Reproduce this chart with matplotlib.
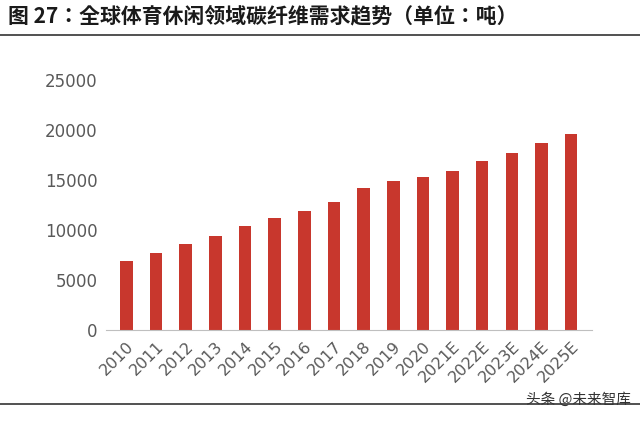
import matplotlib
matplotlib.use("Agg")
import matplotlib.pyplot as plt
from matplotlib.lines import Line2D
from matplotlib import font_manager as fm

files = [f for f in fm.findSystemFonts() if "CJK" in f and "Sans" in f]
bold = [f for f in files if "Bold" in f]
reg = [f for f in files if "Regular" in f]
cjk_b = bold[0] if bold else (files[0] if files else None)
cjk_r = reg[0] if reg else (files[0] if files else None)

years = ["2010","2011","2012","2013","2014","2015","2016","2017","2018","2019","2020",
         "2021E","2022E","2023E","2024E","2025E"]
demand = [6900,7700,8600,9400,10400,11200,11900,12800,14200,14900,15300,15900,16900,17700,18700,19600]
yticks = [0,5000,10000,15000,20000,25000]

fig = plt.figure(figsize=(6.4,4.21), dpi=100)
ax = fig.add_axes([0.165, 0.216, 0.76, 0.594])
ax.bar(range(len(years)), demand, width=0.42, color="#C8372D")
ax.set_ylim(0, 25000)
ax.set_xlim(-0.7, len(years)-0.3)
ax.set_yticks(yticks)
ax.set_yticklabels([str(t) for t in yticks], fontsize=12, color="#595959", family="DejaVu Sans")
ax.set_xticks(range(len(years)))
ax.set_xticklabels(years, rotation=45, ha="right", rotation_mode="anchor", fontsize=11.5, color="#595959", family="DejaVu Sans")
for s in ["top","right","left"]:
    ax.spines[s].set_visible(False)
ax.spines["bottom"].set_color("#BFBFBF")
ax.tick_params(length=0, pad=6)

tp = fm.FontProperties(fname=cjk_b, size=15) if cjk_b else fm.FontProperties(size=15, weight="bold")
wp = fm.FontProperties(fname=cjk_r, size=10.5) if cjk_r else fm.FontProperties(size=10.5)
fig.text(0.012, 0.962, "图 27：全球体育休闲领域碳纤维需求趋势（单位：吨）", fontproperties=tp,
         color="#1a1a1a", va="center")
fig.add_artist(Line2D([0.0, 1.0], [0.917, 0.917], color="#333333", lw=1.2))
fig.add_artist(Line2D([0.0, 1.0], [0.04, 0.04], color="#333333", lw=1.2))
fig.text(0.985, 0.05, "头条 @未来智库", fontproperties=wp, color="#333333", ha="right", va="center")
fig.savefig("out.png", dpi=100)
